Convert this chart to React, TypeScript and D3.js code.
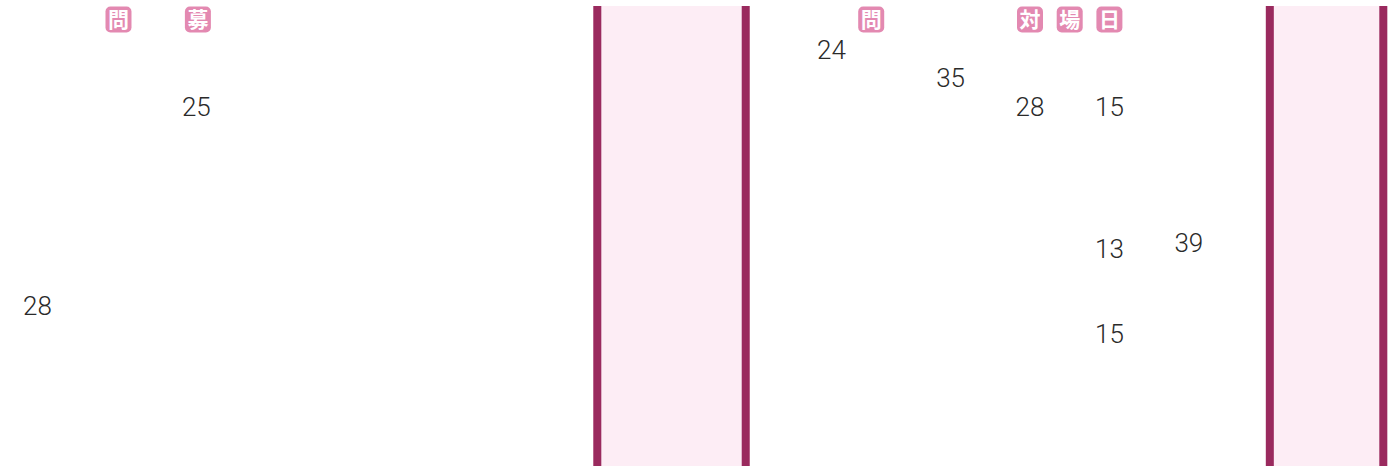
import React from "react";
import * as d3 from "d3";

// column positions are in grid units, rows in px-like units from the top
const numberLabels = ["25", "28", "24", "35", "28", "15", "13", "39", "15"];
const numberCols = [2, 0, 10, 11.5, 12.5, 13.5, 13.5, 14.5, 13.5];
const numberRows = [110, 309, 53, 81, 110, 110, 252, 246, 337];

const iconLabels = ["問", "募", "問", "対", "場", "日"];
const iconCols = [1.02, 2.02, 10.5, 12.5, 13, 13.5];

const bandStarts = [7, 15.47];
const bandEnds = [8.97, 17];

const width = 1398;
const height = 473;

const App = () => {
  const x = d3.scaleLinear().domain([0, 1]).range([37.5, 116.9]);
  const y = d3.scaleLinear().domain([0, 460]).range([6, 466]);

  const edge = 8;
  const iconSize = 26;

  return (
    <svg
      width={width}
      height={height}
      style={{ position: "absolute", left: 0, top: 0, background: "#fff" }}
    >
      {/* pink bands */}
      {bandStarts.map((s, i) => {
        const x0 = x(s);
        const x1 = x(bandEnds[i]);
        return (
          <g key={"b" + i}>
            <rect x={x0} y={y(0)} width={x1 - x0} height={y(460) - y(0)} fill="#fdedf5" />
            <rect x={x0} y={y(0)} width={edge} height={y(460) - y(0)} fill="#9a2a5e" />
            <rect x={x1 - edge} y={y(0)} width={edge} height={y(460) - y(0)} fill="#9a2a5e" />
          </g>
        );
      })}

      {/* kanji badges */}
      {iconLabels.map((t, i) => (
        <g key={"i" + i} transform={`translate(${x(iconCols[i]) - iconSize / 2},${y(0.5)})`}>
          <rect width={iconSize} height={iconSize} rx={5} fill="#e389b1" />
          <text
            x={iconSize / 2}
            y={iconSize / 2 + 7.5}
            textAnchor="middle"
            fill="#fff"
            fontSize={21}
            fontWeight={700}
            fontFamily="'Noto Sans CJK JP', sans-serif"
          >
            {t}
          </text>
        </g>
      ))}

      {/* numbers */}
      {numberLabels.map((t, i) => (
        <text
          key={"n" + i}
          x={x(numberCols[i])}
          y={y(numberRows[i])}
          textAnchor="middle"
          fill="#2a2a2a"
          fontSize={26}
          fontWeight={300}
          fontFamily="Roboto, sans-serif"
        >
          {t}
        </text>
      ))}
    </svg>
  );
};

export default App;
